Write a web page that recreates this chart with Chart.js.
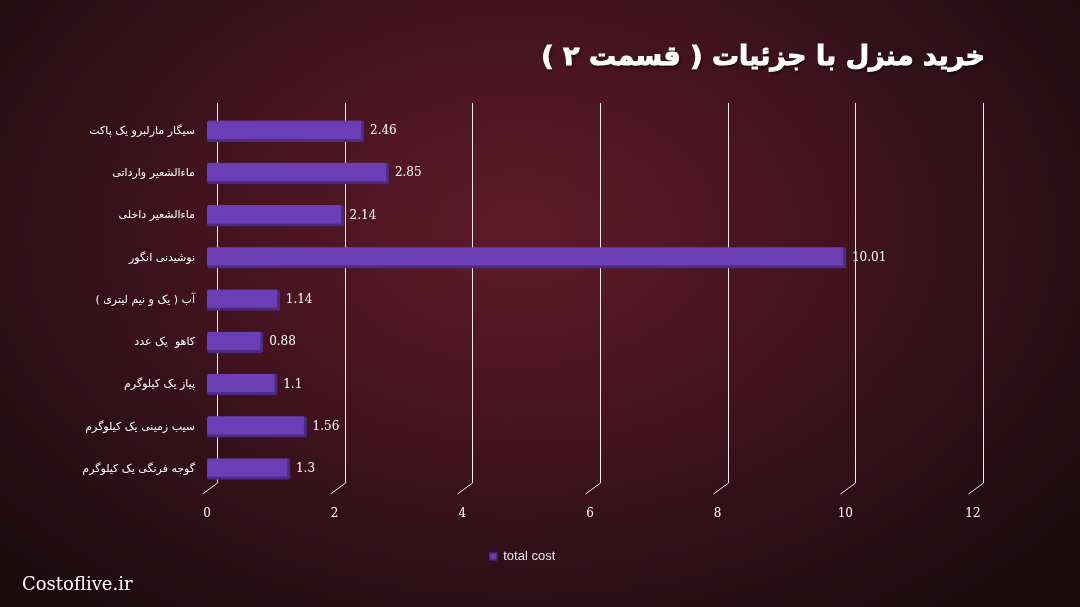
<!DOCTYPE html>
<html>
<head>
<meta charset="utf-8">
<script src="https://cdn.jsdelivr.net/npm/chart.js@4/dist/chart.umd.min.js"></script>
<style>
  html, body { margin: 0; padding: 0; }
  body {
    width: 1080px; height: 607px; overflow: hidden; position: relative;
    background: radial-gradient(ellipse 700px 480px at 520px 230px, #5e1b2b 0%, #4a1422 35%, #32101a 65%, #1d0a0f 100%);
  }
  #wrap { position: absolute; left: 0; top: 0; width: 1080px; height: 607px; }
  #titulo {
    position: absolute; right: 95px; top: 40px;
    direction: rtl; color: #fff;
    font-family: "DejaVu Sans", sans-serif; font-weight: bold; font-size: 27px;
    -webkit-text-stroke: 1px #fff;
    text-shadow: 1px 2px 3px rgba(0,0,0,0.6);
  }
  #marca {
    position: absolute; left: 22px; top: 573px; color: #fff;
    font-family: "DejaVu Serif", serif; font-size: 18px;
  }
</style>
</head>
<body>
<div id="wrap"><canvas id="grafico" width="1080" height="607"></canvas></div>
<div id="titulo">خرید منزل با جزئیات ( قسمت ۲ )</div>
<div id="marca">Costoflive.ir</div>
<script>
// datos
const categorias = [
  'سیگار مارلبرو یک پاکت',
  'ماءالشعیر وارداتی',
  'ماءالشعیر داخلی',
  'نوشیدنی انگور',
  'آب ( یک و نیم لیتری )',
  'کاهو  یک عدد',
  'پیاز یک کیلوگرم',
  'سیب زمینی یک کیلوگرم',
  'گوجه فرنگی یک کیلوگرم'
];
const totalCost = [2.46, 2.85, 2.14, 10.01, 1.14, 0.88, 1.1, 1.56, 1.3];
const ticksX = [0, 2, 4, 6, 8, 10, 12];

// lineas de la pared del fondo (con el pie inclinado)
const rejilla = {
  id: 'rejilla',
  beforeDatasetsDraw(chart) {
    const { ctx, chartArea, scales: { x } } = chart;
    ctx.save();
    ctx.strokeStyle = '#f2eef0';
    ctx.lineWidth = 1;
    ticksX.forEach(v => {
      const px = Math.round(x.getPixelForValue(v)) + 10.5;
      ctx.beginPath();
      ctx.moveTo(px, chartArea.top - 7);
      ctx.lineTo(px, chartArea.bottom - 7);
      ctx.lineTo(px - 15, chartArea.bottom + 4);
      ctx.stroke();
    });
    ctx.restore();
  }
};

// etiquetas de valor
const etiquetas = {
  id: 'etiquetas',
  afterDatasetsDraw(chart) {
    const { ctx } = chart;
    const meta = chart.getDatasetMeta(0);
    ctx.save();
    ctx.fillStyle = '#ffffff';
    ctx.font = '12px "DejaVu Serif", serif';
    ctx.textBaseline = 'middle';
    ctx.textAlign = 'left';
    meta.data.forEach((bar, i) => {
      ctx.fillText(String(totalCost[i]), bar.x + 6, bar.y);
    });
    ctx.restore();
  }
};

// la leyenda va un poco a la derecha del centro
const moverLeyenda = {
  id: 'moverLeyenda',
  afterLayout(chart) {
    if (chart.legend) {
      chart.legend.left += 36;
      chart.legend.right += 36;
    }
  }
};

const ctx = document.getElementById('grafico').getContext('2d');
new Chart(ctx, {
  type: 'bar',
  data: {
    labels: categorias.map(c => '\u200F' + c + '\u200F'),
    datasets: [{
      label: 'total cost',
      data: totalCost,
      backgroundColor: '#6c3eb6',
      borderColor: '#4b2a84',
      borderWidth: { top: 0, left: 0, right: 3, bottom: 3 },
      borderSkipped: false,
      borderRadius: 2,
      barThickness: 21
    }]
  },
  options: {
    indexAxis: 'y',
    responsive: false,
    animation: false,
    devicePixelRatio: 1,
    layout: { padding: { top: 110, right: 107, bottom: 34, left: 0 } },
    plugins: {
      tooltip: { enabled: false },
      legend: {
        position: 'bottom',
        labels: {
          color: '#ece6ee',
          boxWidth: 7, boxHeight: 7,
          padding: 10,
          font: { family: '"Liberation Sans", Arial, sans-serif', size: 13 }
        }
      }
    },
    scales: {
      x: {
        min: 0, max: 12,
        afterFit(s) { s.height = 50; },
        grid: { display: false, drawTicks: false },
        border: { display: false },
        ticks: {
          stepSize: 2, padding: 17, color: '#ffffff',
          font: { family: '"DejaVu Serif", serif', size: 12 }
        }
      },
      y: {
        afterFit(s) { s.width = 207; },
        grid: { display: false, drawTicks: false },
        border: { display: false },
        ticks: {
          padding: 12, color: '#ffffff',
          font: { family: '"DejaVu Sans", sans-serif', size: 11 }
        }
      }
    }
  },
  plugins: [rejilla, etiquetas, moverLeyenda]
});
</script>
</body>
</html>
